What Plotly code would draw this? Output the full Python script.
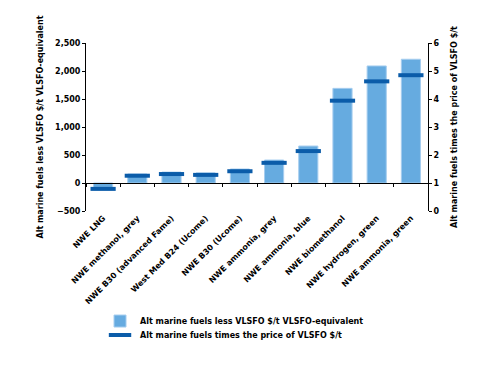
import plotly.graph_objects as go

categories = ["NWE LNG", "NWE methanol, grey", "NWE B30 (advanced Fame)",
              "West Med B24 (Ucome)", "NWE B30 (Ucome)", "NWE ammonia, grey",
              "NWE ammonia, blue", "NWE biomethanol", "NWE hydrogen, green",
              "NWE ammonia, green"]
less_vlsfo = [-120, 160, 195, 180, 250, 410, 660, 1690, 2090, 2210]
times_vlsfo = [0.79, 1.26, 1.32, 1.29, 1.42, 1.72, 2.14, 3.94, 4.63, 4.85]

bar_name = "Alt marine fuels less VLSFO $/t VLSFO-equivalent"
dash_name = "Alt marine fuels times the price of VLSFO $/t"

FONT = "DejaVu Sans, Verdana, sans-serif"

fig = go.Figure()
fig.add_trace(go.Bar(
    x=categories, y=less_vlsfo, name=bar_name,
    marker=dict(color="#66abe0", line=dict(color="#a6cdef", width=1)),
    width=0.56, xaxis="x", yaxis="y", legend="legend"))
fig.add_trace(go.Scatter(
    x=categories, y=times_vlsfo, name=dash_name, mode="markers",
    marker=dict(symbol="line-ew", size=18, line=dict(color="#0b5ca9", width=4)),
    xaxis="x", yaxis="y2", legend="legend2"))
# invisible trace to populate the zero-line category axis
fig.add_trace(go.Scatter(x=categories, y=less_vlsfo, mode="markers",
                         marker=dict(opacity=0), showlegend=False,
                         hoverinfo="skip", xaxis="x2", yaxis="y"))

leg_common = dict(xanchor="left", yanchor="middle",
                  font=dict(size=8, weight="bold"), bgcolor="rgba(0,0,0,0)",
                  itemwidth=30, borderwidth=0)

fig.update_layout(
    width=484, height=370,
    margin=dict(l=78, r=64, t=35, b=167),
    paper_bgcolor="white", plot_bgcolor="white",
    font=dict(family=FONT, size=8, color="black", weight="bold"),
    showlegend=True,
    legend=dict(x=0.041, y=-0.655, **leg_common),
    legend2=dict(x=0.041, y=-0.738, **leg_common),
    xaxis=dict(type="category", categoryorder="array", categoryarray=categories,
               range=[-0.5, 9.5], tickangle=-45, showline=False, ticks="",
               showgrid=False, zeroline=False, automargin=False,
               tickfont=dict(size=8, weight="bold")),
    xaxis2=dict(type="category", categoryorder="array", categoryarray=categories,
                range=[-0.5, 9.5], overlaying="x", anchor="free",
                position=1/6, showline=True, linecolor="black", linewidth=1,
                ticks="outside", ticklen=3, tickcolor="black", automargin=False,
                tickson="boundaries", showticklabels=False, showgrid=False),
    yaxis=dict(range=[-500, 2500], dtick=500, tickformat=",",
               showline=True, linecolor="black", linewidth=1,
               ticks="outside", ticklen=3, tickcolor="black",
               showgrid=False, zeroline=False, automargin=False,
               title=dict(text="Alt marine fuels less VLSFO $/t VLSFO-equivalent",
                          font=dict(size=8, weight="bold"), standoff=10)),
    yaxis2=dict(range=[0, 6], dtick=1, overlaying="y", side="right",
                showline=True, linecolor="black", linewidth=1,
                ticks="outside", ticklen=3, tickcolor="black",
                showgrid=False, zeroline=False, automargin=False,
                title=dict(text="Alt marine fuels times the price of VLSFO $/t",
                           font=dict(size=8, weight="bold"), standoff=12)),
)

fig.write_html("out.html")
